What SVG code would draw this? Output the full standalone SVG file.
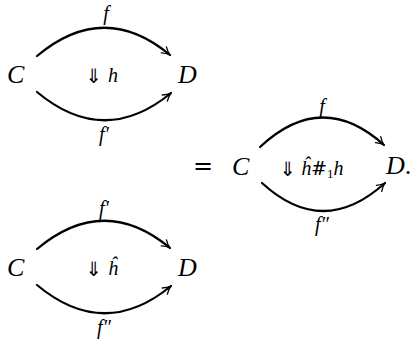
<svg xmlns="http://www.w3.org/2000/svg" width="417" height="339" viewBox="0 0 417 339">
<style>
.obj{font-family:"Liberation Serif",serif;font-style:italic;font-size:26px;fill:#000}
.lbl{font-family:"Liberation Serif",serif;font-style:italic;font-size:20px;fill:#000}
.hash{font-family:"DejaVu Serif",serif;font-style:normal;font-size:19px}
.eq{font-family:"DejaVu Sans",sans-serif;font-size:24px;fill:#000}
.arr{font-family:"DejaVu Sans",sans-serif;font-size:20px;fill:#000}
.edge{fill:none;stroke:#000;stroke-width:2.2;stroke-linecap:round}
</style>
<defs>
<marker id="ah" markerWidth="14" markerHeight="12" viewBox="-10 -6 12 12" refX="0" refY="0" orient="auto" markerUnits="userSpaceOnUse">
<path d="M-8,-4 Q-4,-1 0,0 Q-4,1 -8,4" fill="none" stroke="#000" stroke-width="1.3" stroke-linecap="round"/>
</marker>
</defs>
<g id="connectors">
<path class="edge" d="M37,56 Q104,0 170,55" marker-end="url(#ah)"/>
<path class="edge" d="M37,92 Q104,148 171,93" marker-end="url(#ah)"/>
<path class="edge" d="M37,249 Q104,193 170,248" marker-end="url(#ah)"/>
<path class="edge" d="M37,285 Q104,341 171,286" marker-end="url(#ah)"/>
<path class="edge" d="M260,147 Q322,89 384,145" marker-end="url(#ah)"/>
<path class="edge" d="M262,183 Q323,239 385,183" marker-end="url(#ah)"/>
</g>
<g id="C1"><text class="obj" x="7" y="83">C</text></g>
<g id="D1"><text class="obj" x="178" y="83">D</text></g>
<g id="C2"><text class="obj" x="7" y="276">C</text></g>
<g id="D2"><text class="obj" x="178" y="276">D</text></g>
<g id="C3"><text class="obj" x="232" y="175">C</text></g>
<g id="D3"><text class="obj" x="386" y="174">D<tspan style="font-style:normal">.</tspan></text></g>
<g id="labels">
<text class="lbl" x="106" y="20" text-anchor="middle">f</text>
<text class="lbl" x="104" y="141" text-anchor="middle">f′</text>
<text class="arr" x="94" y="83" text-anchor="middle">⇓</text>
<text class="lbl" x="108" y="82">h</text>
<text class="lbl" x="104" y="215" text-anchor="middle">f′</text>
<text class="lbl" x="104" y="334" text-anchor="middle">f″</text>
<text class="arr" x="94" y="276" text-anchor="middle">⇓</text>
<text class="lbl" x="108" y="275">ĥ</text>
<text class="eq" x="193" y="174">=</text>
<text class="lbl" x="322" y="113" text-anchor="middle">f</text>
<text class="lbl" x="322" y="231" text-anchor="middle">f″</text>
<text class="arr" x="288" y="176" text-anchor="middle">⇓</text>
<text class="lbl" x="301" y="175">ĥ<tspan class="hash">#</tspan><tspan style="font-style:normal;font-size:13px" dy="3">1</tspan><tspan dy="-3">h</tspan></text>
</g>
</svg>
